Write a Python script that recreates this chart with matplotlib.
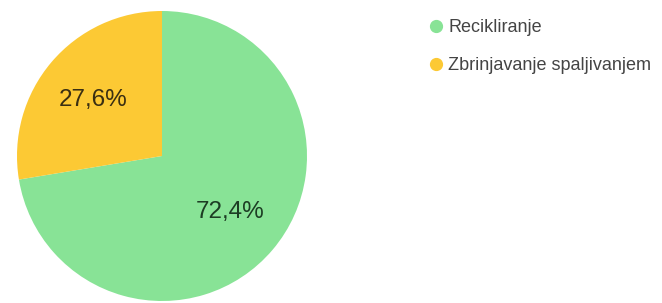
import numpy as np
import matplotlib.pyplot as plt
from matplotlib.lines import Line2D

labels = ["Recikliranje", "Zbrinjavanje spaljivanjem"]
values = [72.4, 27.6]
pct_labels = ["72,4%", "27,6%"]
colors = ["#88e396", "#fcc934"]
text_colors = ["#1d3d24", "#3a2f12"]

plt.rcParams["font.family"] = ["Liberation Sans", "DejaVu Sans"]

fig = plt.figure(figsize=(6.62, 3.03), dpi=100)
ax = fig.add_axes([162 / 662 - 145 / 662, (303 - 156) / 303 - 145 / 303,
                   290 / 662, 290 / 303])

wedges, _ = ax.pie(values, colors=colors, startangle=90, counterclock=False,
                   radius=1, wedgeprops=dict(linewidth=0))
for w, txt, tc in zip(wedges, pct_labels, text_colors):
    ang = np.deg2rad((w.theta1 + w.theta2) / 2)
    ax.text(0.62 * np.cos(ang), 0.6 * np.sin(ang), txt, ha="center", va="center",
            fontsize=17.5, color=tc)
ax.set_xlim(-1, 1)
ax.set_ylim(-1, 1)
ax.set_aspect("auto")
ax.axis("off")

handles = [Line2D([0], [0], marker="o", linestyle="", markersize=8.5,
                  markerfacecolor=c, markeredgecolor=c) for c in colors]
fig.legend(handles, labels, loc="upper left", bbox_to_anchor=(413 / 662, 1 - 3 / 303),
           frameon=False, fontsize=13, labelspacing=1.15, handletextpad=0.26,
           handlelength=0.8, labelcolor="#444444")

fig.savefig("out.png", dpi=100, facecolor="white")
